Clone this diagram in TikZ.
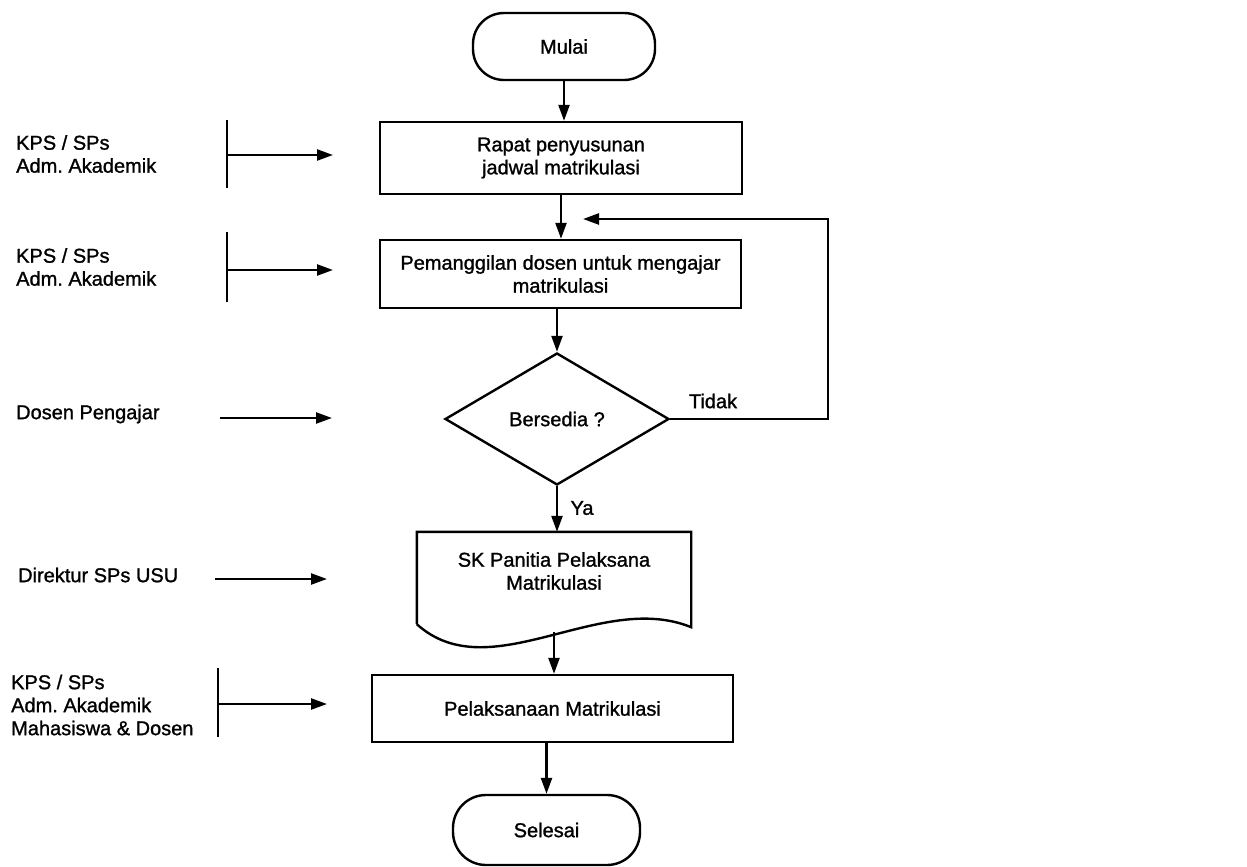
\documentclass[tikz,border=0pt]{standalone}
\usepackage{fontspec}
\setmainfont{Liberation Sans}[FakeBold=1.2]
\frenchspacing
\usetikzlibrary{arrows.meta,shapes.geometric}
\begin{document}
\begin{tikzpicture}[x=1pt,y=-1pt,
  line width=2.4pt,
  every node/.style={font=\fontsize{20}{23}\selectfont},
  box/.style={draw, rectangle, align=center, inner sep=0pt},
  term/.style={draw, rectangle, rounded corners=31pt, inner sep=0pt},
  arr/.style={-{Triangle[length=16pt,width=11pt]}},
  lab/.style={anchor=west, align=left, inner sep=0pt}]
\useasboundingbox[fill=white] (0,0) rectangle (1247,867);

% flowchart
\node[term, minimum width=182pt, minimum height=67pt] (mulai) at (564,46.5) {Mulai};
\node[box, minimum width=362pt, minimum height=72pt] (rapat) at (561,158) {Rapat penyusunan\\jadwal matrikulasi};
\node[box, minimum width=361pt, minimum height=68pt] (pem) at (560.5,274) {Pemanggilan dosen untuk mengajar\\matrikulasi};
\node[draw, diamond, aspect=1.7, inner sep=0pt, minimum width=224pt, minimum height=132pt] (dia) at (557,419) {Bersedia ?};
\node[rectangle, inner sep=0pt, minimum width=272pt, minimum height=90pt] (sk) at (554,578) {};
\node[align=center, inner sep=0pt] (sktext) at (554,571) {SK Panitia Pelaksana\\Matrikulasi};
\draw (sk.south west) -- (sk.north west) -- (sk.north east) -- ([yshift=-3pt]sk.south east)
  .. controls (600,590) and (490,690) .. (sk.south west);
\node[box, minimum width=361pt, minimum height=67pt] (pel) at (552.5,708.5) {Pelaksanaan Matrikulasi};
\node[term, minimum width=187pt, minimum height=70pt, rounded corners=33pt] (sel) at (546.5,830) {Selesai};

\node[inner sep=0pt] (tidak) at (713,401) {Tidak};
\node[inner sep=0pt] (ya) at (582,508) {Ya};

\draw[arr] (mulai.south) -- (mulai.south |- rapat.north);
\draw[arr] (rapat.south) -- (rapat.south |- pem.north);
\draw[arr] (pem.south -| dia.north) -- (dia.north);
\draw[arr] (dia.south) -- (dia.south |- sk.north);
\draw[arr] ([yshift=-8pt]sk.south) -- (sk.south |- pel.north);
\draw[arr] (pel.south -| sel.north) -- (sel.north);
\coordinate (loopR) at (828,219);
\coordinate (loopEnd) at (583,219);
\draw[arr] (dia.east) -| (loopR) -- (loopEnd);

% left side actors
\node[lab] (l1) at (15,154) {KPS / SPs\\Adm. Akademik};
\node[lab] (l2) at (15,267) {KPS / SPs\\Adm. Akademik};
\node[lab] (l3) at (15,414) {Dosen Pengajar};
\node[lab] (l4) at (17,575) {Direktur SPs USU};
\node[lab] (l5) at (10,705) {KPS / SPs\\Adm. Akademik\\Mahasiswa \& Dosen};

\coordinate (b1t) at (227,120); \coordinate (b1b) at (227,188);
\coordinate (a1s) at (227,155); \coordinate (a1e) at (333,155);
\draw (b1t) -- (b1b);
\draw[arr] (a1s) -- (a1e);

\coordinate (b2t) at (227,232); \coordinate (b2b) at (227,302);
\coordinate (a2s) at (227,270); \coordinate (a2e) at (333,270);
\draw (b2t) -- (b2b);
\draw[arr] (a2s) -- (a2e);

\coordinate (a3s) at (220,418); \coordinate (a3e) at (332,418);
\draw[arr] (a3s) -- (a3e);

\coordinate (a4s) at (215,579); \coordinate (a4e) at (327,579);
\draw[arr] (a4s) -- (a4e);

\coordinate (b5t) at (218,668); \coordinate (b5b) at (218,737);
\coordinate (a5s) at (218,704); \coordinate (a5e) at (327,704);
\draw (b5t) -- (b5b);
\draw[arr] (a5s) -- (a5e);
\end{tikzpicture}
\end{document}
